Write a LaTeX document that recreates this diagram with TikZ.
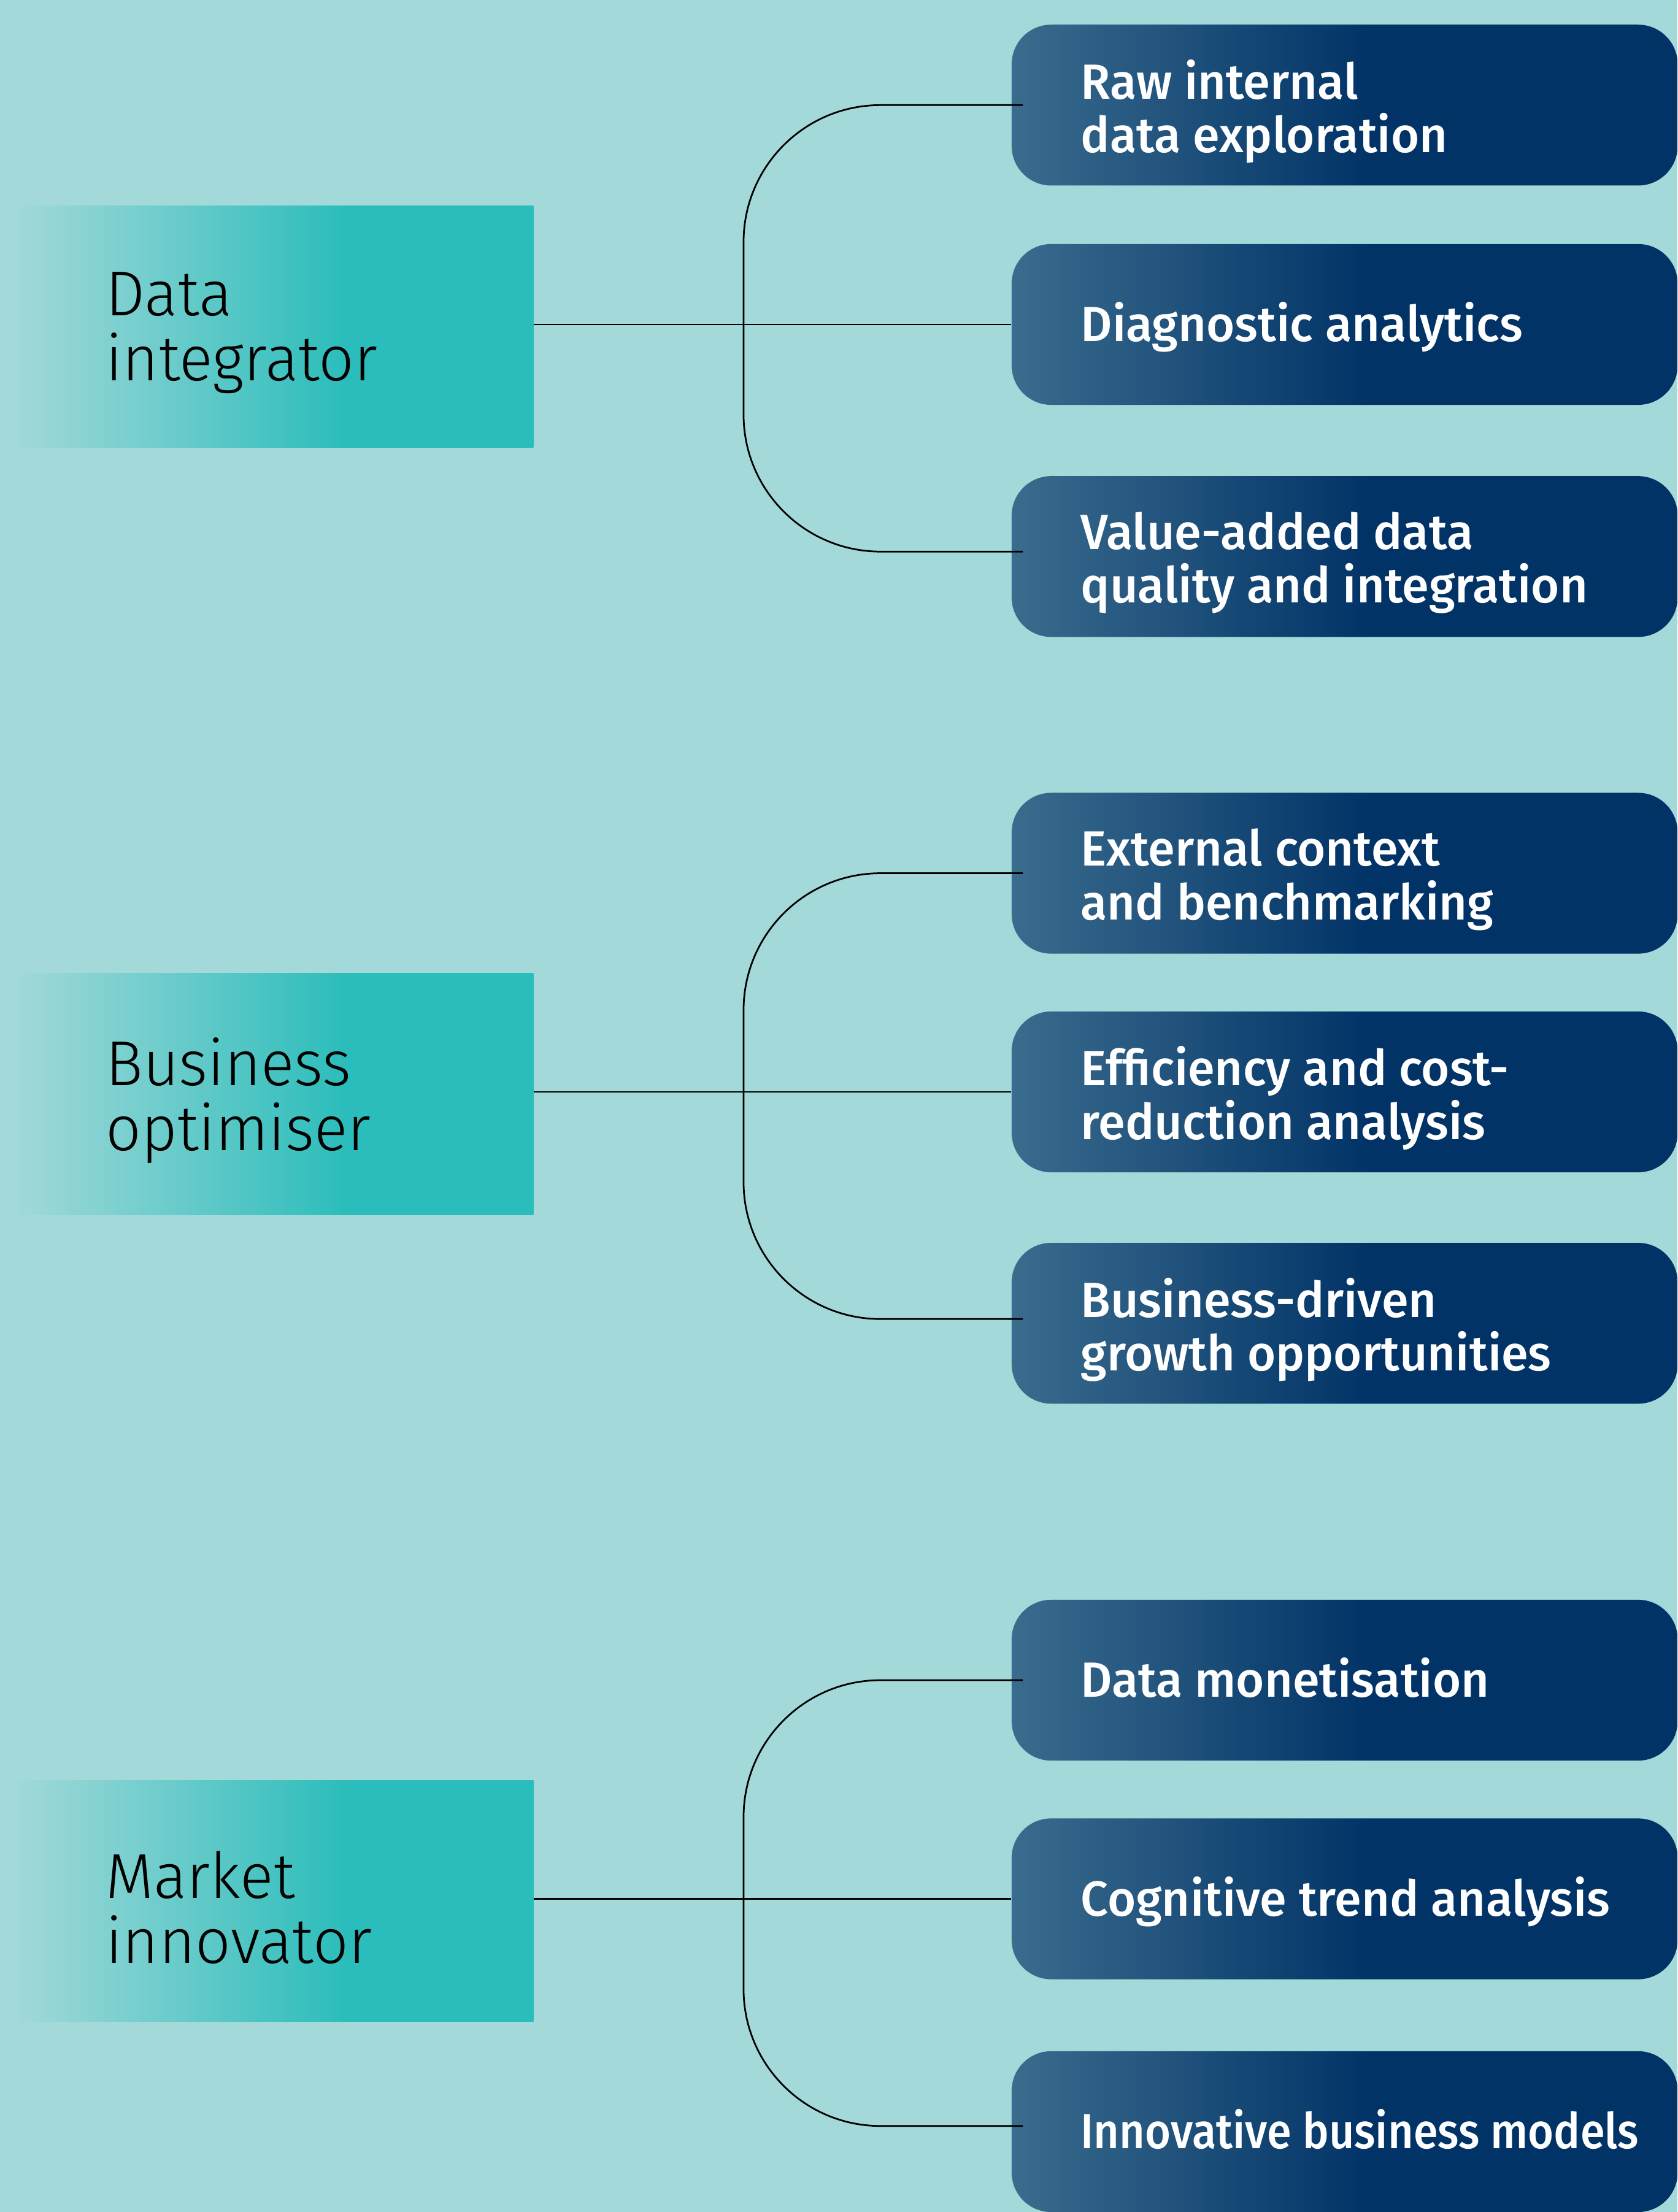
\documentclass[tikz,border=0pt]{standalone}
\usepackage{fontspec}
\setmainfont{Fira Sans}
\newfontfamily\rolefont{Fira Sans Light}[FakeStretch=0.98]
\newfontfamily\taskfont{Fira Sans Medium}[FakeStretch=0.985]
\newfontfamily\tasknarrowfont{Fira Sans Medium}[FakeStretch=0.895]
\usetikzlibrary{calc}
\definecolor{bgteal}{HTML}{A3D9D9}
\definecolor{roleteal}{HTML}{2BBDBB}
\definecolor{navy}{HTML}{013367}
\definecolor{navylight}{HTML}{3A6C8E}
\pgfdeclarehorizontalshading{rolefade}{100bp}{color(0bp)=(bgteal); color(25bp)=(bgteal); color(57bp)=(roleteal); color(100bp)=(roleteal)}
\pgfdeclarehorizontalshading{taskfade}{100bp}{color(0bp)=(navylight); color(25bp)=(navylight); color(52bp)=(navy); color(100bp)=(navy)}
\tikzset{
	rolebox/.style={rectangle, shade, shading=rolefade, minimum width=368pt, minimum height=171pt, inner sep=0pt},
	roletext/.style={anchor=west, align=left, inner sep=0pt, yshift=-4.5pt, font=\rolefont\fontsize{45}{46}\selectfont},
	taskbox/.style={rectangle, rounded corners=28pt, shade, shading=taskfade, minimum width=472pt, minimum height=114pt, inner sep=0pt},
	tasktext/.style={anchor=west, align=left, inner sep=0pt, text=white, font=\taskfont\fontsize{35}{38}\selectfont},
	oneline/.style={tasktext, text height=24pt, text depth=0pt},
	twoline/.style={tasktext, yshift=-4.5pt},
	link/.style={line width=1.2pt, black},
	branch/.style={link, rounded corners=97pt}
}

\begin{document}
\begin{tikzpicture}[x=1pt, y=-1pt]
			%%%%% START %%%%%
			\useasboundingbox (0, 0) rectangle (1189, 1568);
			\fill[bgteal] (0, 0) rectangle (1189, 1568);
			
			\node[rolebox] (integrator) at (194, 231.5) {};
			\node[roletext] (integrator-l) at ([xshift=65pt]integrator.west) {Data\\integrator};
			\node[rolebox] (optimiser) at (194, 775.5) {};
			\node[roletext] (optimiser-l) at ([xshift=65pt]optimiser.west) {Business\\optimiser};
			\node[rolebox] (innovator) at (194, 1347.5) {};
			\node[roletext] (innovator-l) at ([xshift=65pt]innovator.west) {Market\\innovator};
			
			\node[taskbox] (rawdata) at (953, 74.5) {};
			\node[twoline] (rawdata-l) at ([xshift=49pt]rawdata.west) {Raw internal\\data exploration};
			\node[taskbox] (diagnostic) at (953, 230) {};
			\node[oneline] (diagnostic-l) at ([xshift=49pt]diagnostic.west) {Diagnostic analytics};
			\node[taskbox] (valueadded) at (953, 394.5) {};
			\node[twoline] (valueadded-l) at ([xshift=49pt]valueadded.west) {Value-added data\\quality and integration};
			
			\node[taskbox] (external) at (953, 619) {};
			\node[twoline] (external-l) at ([xshift=49pt]external.west) {External context\\and benchmarking};
			\node[taskbox] (efficiency) at (953, 774) {};
			\node[twoline] (efficiency-l) at ([xshift=49pt]efficiency.west) {Efficiency and cost-\\reduction analysis};
			\node[taskbox] (growth) at (953, 938) {};
			\node[twoline] (growth-l) at ([xshift=49pt]growth.west) {Business-driven\\growth opportunities};
			
			\node[taskbox] (monetisation) at (953, 1191) {};
			\node[oneline] (monetisation-l) at ([xshift=49pt]monetisation.west) {Data monetisation};
			\node[taskbox] (cognitive) at (953, 1346) {};
			\node[oneline] (cognitive-l) at ([xshift=49pt]cognitive.west) {Cognitive trend analysis};
			\node[taskbox] (newmodels) at (953, 1511) {};
			\node[oneline, font=\tasknarrowfont\fontsize{35}{38}\selectfont] (newmodels-l) at ([xshift=49pt]newmodels.west) {Innovative business models};
			
			\coordinate (trunk1) at (527, 230);
			\coordinate (trunk2) at (527, 774);
			\coordinate (trunk3) at (527, 1346);
			
			\draw[link] (integrator.east |- diagnostic.west) -- (diagnostic.west);
			\draw[branch] ([xshift=8pt]rawdata.west) -| (trunk1);
			\draw[branch] (trunk1) |- ([xshift=8pt,yshift=3.5pt]valueadded.west);
			
			\draw[link] (optimiser.east |- efficiency.west) -- (efficiency.west);
			\draw[branch] ([xshift=8pt]external.west) -| (trunk2);
			\draw[branch] (trunk2) |- ([xshift=8pt,yshift=3pt]growth.west);
			
			\draw[link] (innovator.east |- cognitive.west) -- (cognitive.west);
			\draw[branch] ([xshift=8pt]monetisation.west) -| (trunk3);
			\draw[branch] (trunk3) |- ([xshift=8pt,yshift=4pt]newmodels.west);
			%%%%% END %%%%%
\end{tikzpicture}
\end{document}
